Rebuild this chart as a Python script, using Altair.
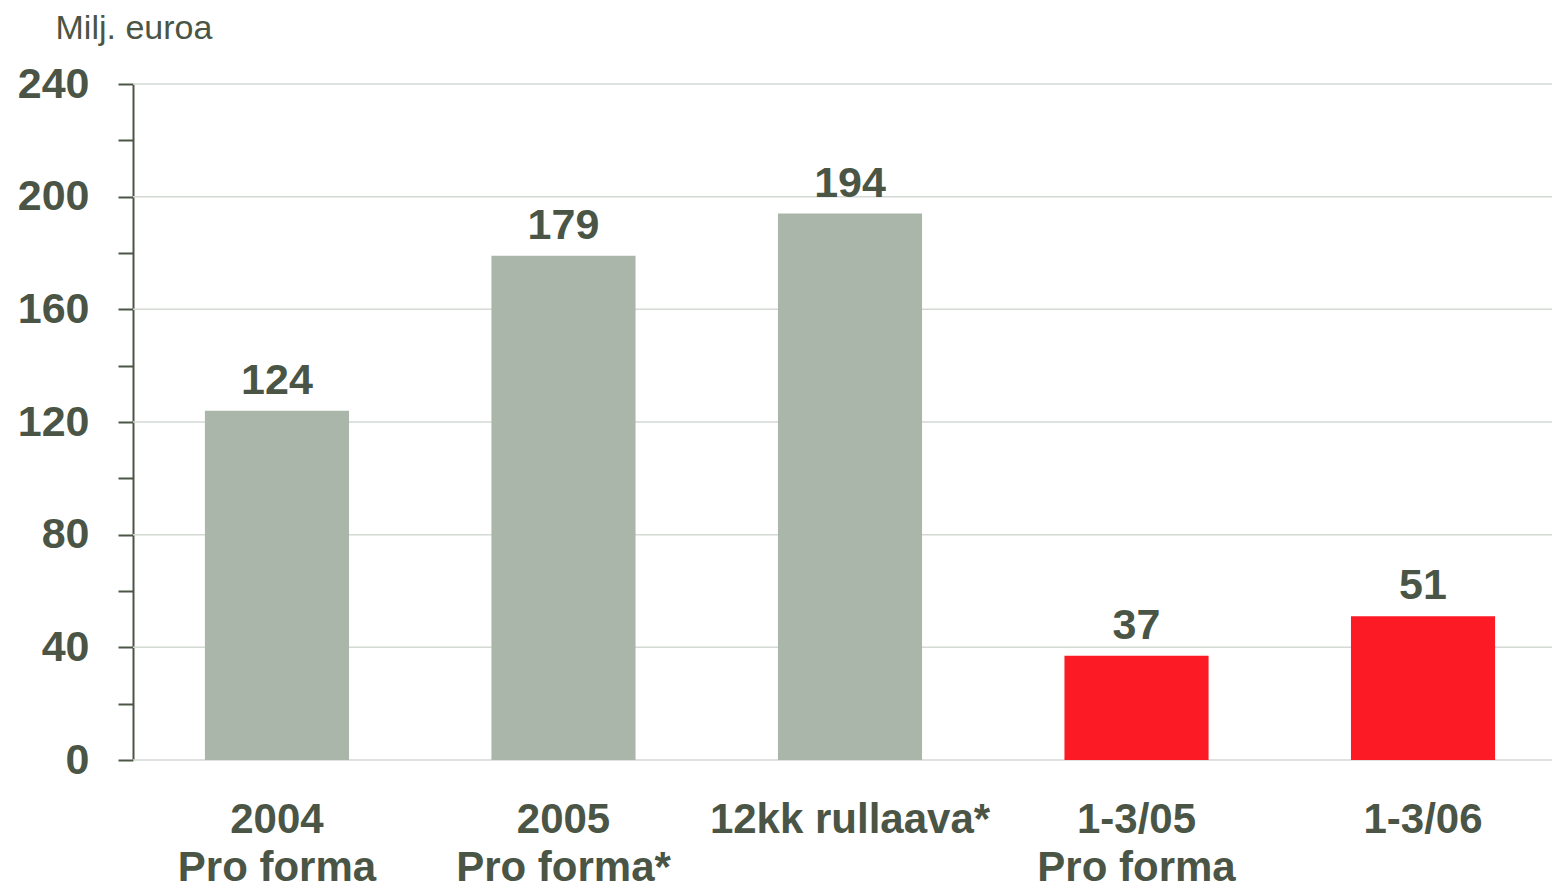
import altair as alt
import pandas as pd

categories = ["2004|Pro forma", "2005|Pro forma*", "12kk rullaava*", "1-3/05|Pro forma", "1-3/06"]
values = [124, 179, 194, 37, 51]
colors = ["#abb6aa", "#abb6aa", "#abb6aa", "#fc1a24", "#fc1a24"]
y_ticks = list(range(0, 241, 20))
grid_values = list(range(0, 241, 40))

TXT = "#4a5545"
FONT = "Liberation Sans"

df = pd.DataFrame({"cat": categories, "value": values, "color": colors})
grid_df = pd.DataFrame({"g": grid_values})

x_scale = alt.Scale(paddingInner=0.497, paddingOuter=0.251, range=[0, 1434])
x_axis = alt.Axis(
    title=None,
    labelAngle=0,
    labelExpr="split(datum.label, '|')",
    labelFont=FONT,
    labelFontSize=42,
    labelFontWeight="bold",
    labelColor=TXT,
    labelLineHeight=48,
    labelPadding=5,
    labelBaseline="top",
    labelLimit=0,
    ticks=False,
    domain=False,
    offset=34,
)

y_scale = alt.Scale(domain=[0, 240], nice=False)
y_axis = alt.Axis(
    values=y_ticks,
    labelExpr="datum.value % 40 == 0 ? datum.label : ''",
    grid=False,
    domainColor=TXT,
    domainWidth=2,
    tickColor=TXT,
    tickWidth=2,
    tickSize=15,
    labelFont=FONT,
    labelFontSize=43,
    labelFontWeight="bold",
    labelColor=TXT,
    labelPadding=29,
    title="Milj. euroa",
    titleAngle=0,
    titleX=-78,
    titleY=-46,
    titleAlign="left",
    titleBaseline="alphabetic",
    titleFont=FONT,
    titleFontSize=34,
    titleFontWeight="normal",
    titleColor=TXT,
)

grid = alt.Chart(grid_df).mark_rule(color="#d3d9d3", strokeWidth=1.5).encode(
    y=alt.Y("g:Q", scale=y_scale, axis=y_axis),
    x=alt.value(0),
    x2=alt.value(1419),
)

bars = alt.Chart(df).mark_bar().encode(
    x=alt.X("cat:N", sort=categories, scale=x_scale, axis=x_axis),
    y=alt.Y("value:Q", scale=y_scale, axis=y_axis),
    color=alt.Color("color:N", scale=None),
)

labels = alt.Chart(df).mark_text(
    font=FONT, fontSize=43, fontWeight="bold", color=TXT, baseline="alphabetic", dy=-17
).encode(
    x=alt.X("cat:N", sort=categories, scale=x_scale, axis=x_axis),
    y=alt.Y("value:Q", scale=y_scale, axis=y_axis),
    text=alt.Text("value:Q"),
)

chart = alt.layer(grid, bars, labels).properties(
    width=1419,
    height=676,
    padding={"left": 125, "top": 76, "right": 0, "bottom": 128},
    autosize=alt.AutoSizeParams(type="none"),
).configure_view(stroke=None)

chart.save("out.html", embed_options={"renderer": "svg", "actions": False})
